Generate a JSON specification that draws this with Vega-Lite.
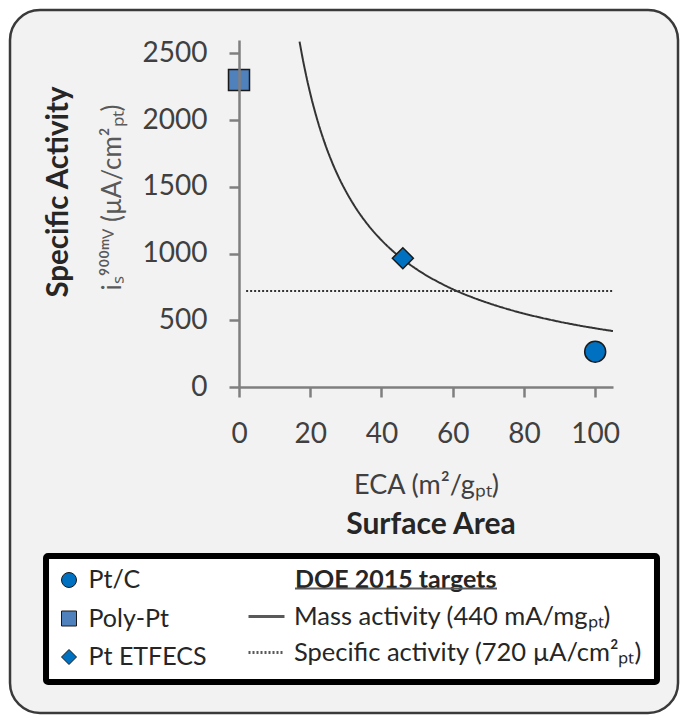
{
  "$schema": "https://vega.github.io/schema/vega-lite/v6.json",
  "width": 374,
  "height": 347,
  "autosize": {"type": "none"},
  "padding": {"left": 239, "top": 40, "right": 67, "bottom": 329},
  "background": "white",
  "config": {
    "font": "Lato",
    "view": {"stroke": null},
    "axis": {"grid": false}
  },
  "datasets": {
    "points": [
      {"series": "Pt/C", "eca": 100, "sa": 265},
      {"series": "Poly-Pt", "eca": 0, "sa": 2300},
      {"series": "Pt ETFECS", "eca": 46, "sa": 965}
    ],
    "targets": [
      {"target": "Mass activity (440 mA/mgₚₜ)", "eca": 17, "sa": 2588},
      {"target": "Mass activity (440 mA/mgₚₜ)", "eca": 18, "sa": 2444},
      {"target": "Mass activity (440 mA/mgₚₜ)", "eca": 19, "sa": 2316},
      {"target": "Mass activity (440 mA/mgₚₜ)", "eca": 20, "sa": 2200},
      {"target": "Mass activity (440 mA/mgₚₜ)", "eca": 22, "sa": 2000},
      {"target": "Mass activity (440 mA/mgₚₜ)", "eca": 24, "sa": 1833},
      {"target": "Mass activity (440 mA/mgₚₜ)", "eca": 26, "sa": 1692},
      {"target": "Mass activity (440 mA/mgₚₜ)", "eca": 28, "sa": 1571},
      {"target": "Mass activity (440 mA/mgₚₜ)", "eca": 30, "sa": 1467},
      {"target": "Mass activity (440 mA/mgₚₜ)", "eca": 33, "sa": 1333},
      {"target": "Mass activity (440 mA/mgₚₜ)", "eca": 36, "sa": 1222},
      {"target": "Mass activity (440 mA/mgₚₜ)", "eca": 40, "sa": 1100},
      {"target": "Mass activity (440 mA/mgₚₜ)", "eca": 44, "sa": 1000},
      {"target": "Mass activity (440 mA/mgₚₜ)", "eca": 48, "sa": 917},
      {"target": "Mass activity (440 mA/mgₚₜ)", "eca": 52, "sa": 846},
      {"target": "Mass activity (440 mA/mgₚₜ)", "eca": 56, "sa": 786},
      {"target": "Mass activity (440 mA/mgₚₜ)", "eca": 60, "sa": 733},
      {"target": "Mass activity (440 mA/mgₚₜ)", "eca": 65, "sa": 677},
      {"target": "Mass activity (440 mA/mgₚₜ)", "eca": 70, "sa": 629},
      {"target": "Mass activity (440 mA/mgₚₜ)", "eca": 75, "sa": 587},
      {"target": "Mass activity (440 mA/mgₚₜ)", "eca": 80, "sa": 550},
      {"target": "Mass activity (440 mA/mgₚₜ)", "eca": 85, "sa": 518},
      {"target": "Mass activity (440 mA/mgₚₜ)", "eca": 90, "sa": 489},
      {"target": "Mass activity (440 mA/mgₚₜ)", "eca": 95, "sa": 463},
      {"target": "Mass activity (440 mA/mgₚₜ)", "eca": 100, "sa": 440},
      {"target": "Mass activity (440 mA/mgₚₜ)", "eca": 105, "sa": 419},
      {"target": "Specific activity (720 µA/cm²ₚₜ)", "eca": 2, "sa": 720},
      {"target": "Specific activity (720 µA/cm²ₚₜ)", "eca": 105, "sa": 720}
    ]
  },
  "layer": [
    {
      "data": {"values": [{}]},
      "layer": [
        {
          "mark": {"type": "rect", "fill": "#f2f2f2", "stroke": "#3a3a3a", "strokeWidth": 2.5, "cornerRadius": 30, "clip": false},
          "encoding": {
            "x": {"datum": -64.29, "type": "quantitative", "scale": {"domain": [0, 105], "nice": false, "zero": false}, "axis": null},
            "x2": {"datum": 123.25},
            "y": {"datum": 2824.8, "type": "quantitative", "scale": {"domain": [0, 2600], "nice": false}, "axis": null},
            "y2": {"datum": -2442.6}
          }
        },
        {
          "mark": {"type": "rect", "fill": "white", "stroke": "black", "strokeWidth": 6, "cornerRadius": 2, "clip": false},
          "encoding": {
            "x": {"datum": -54.18, "type": "quantitative", "axis": null},
            "x2": {"datum": 117.35},
            "y": {"datum": -1266.3, "type": "quantitative", "axis": null},
            "y2": {"datum": -2210.4}
          }
        },
        {
          "mark": {"type": "text", "text": "Specific Activity", "angle": 270, "align": "center", "baseline": "middle", "fontSize": 29.5, "fontWeight": "bold", "color": "#262626", "clip": false},
          "encoding": {
            "x": {"datum": -50.53, "type": "quantitative", "axis": null},
            "y": {"datum": 1461.1, "type": "quantitative", "axis": null}
          }
        },
        {
          "mark": {"type": "text", "text": "Surface Area", "align": "center", "baseline": "middle", "fontSize": 30, "fontWeight": "bold", "color": "#262626", "clip": false},
          "encoding": {
            "x": {"datum": 53.9, "type": "quantitative", "axis": null},
            "y": {"datum": -1034.0, "type": "quantitative", "axis": null}
          }
        },
        {
          "mark": {"type": "text", "text": "DOE 2015 targets", "align": "left", "baseline": "middle", "fontSize": 25, "fontWeight": "bold", "color": "#262626", "clip": false},
          "encoding": {
            "x": {"datum": 15.72, "type": "quantitative", "axis": null},
            "y": {"datum": -1446.1, "type": "quantitative", "axis": null}
          }
        },
        {
          "mark": {"type": "rule", "color": "#595959", "strokeWidth": 2, "clip": false},
          "encoding": {
            "x": {"datum": 15.72, "type": "quantitative", "axis": null},
            "x2": {"datum": 72.43},
            "y": {"datum": -1509.8, "type": "quantitative", "axis": null}
          }
        }
      ]
    },
    {
      "layer": [
        {
          "data": {"name": "targets"},
          "mark": {"type": "line", "color": "#333333", "strokeWidth": 2, "interpolate": "monotone", "clip": true},
          "encoding": {
            "x": {"field": "eca", "type": "quantitative", "title": "ECA (m²/gₚₜ)", "scale": {"domain": [0, 105], "nice": false, "zero": false}},
            "y": {"field": "sa", "type": "quantitative", "title": "iₛ⁹⁰⁰ᵐⱽ (µA/cm²ₚₜ)", "scale": {"domain": [0, 2600], "nice": false}},
            "strokeDash": {
              "field": "target", "type": "nominal",
              "scale": {"domain": ["Mass activity (440 mA/mgₚₜ)", "Specific activity (720 µA/cm²ₚₜ)"], "range": [[1, 0], [2, 2]]},
              "legend": {
                "orient": "none", "legendX": 8, "legendY": 557, "padding": 0, "title": null,
                "symbolType": "stroke", "symbolSize": 1296, "symbolStrokeWidth": 3, "symbolStrokeColor": "#595959",
                "labelFontSize": 25.5, "labelColor": "#262626", "labelOffset": 8, "labelLimit": 600,
                "rowPadding": 3
              }
            }
          }
        },
        {
          "data": {"name": "points"},
          "mark": {"type": "point", "filled": true, "size": 441, "stroke": "#1a1a1a", "strokeWidth": 1.5, "opacity": 1},
          "encoding": {
            "x": {
              "field": "eca", "type": "quantitative", "title": "ECA (m²/gₚₜ)",
              "scale": {"domain": [0, 105], "nice": false, "zero": false},
              "axis": {
                "orient": "bottom", "zindex": 1, "format": "d", "labelFlush": false,
                "values": [0, 20, 40, 60, 80, 100], "tickSize": 10, "labelPadding": 23,
                "labelFontSize": 28, "labelColor": "#404040",
                "domainColor": "#7f7f7f", "domainWidth": 2.5, "tickColor": "#7f7f7f", "tickWidth": 2.5,
                "titleFontSize": 27, "titleFontWeight": "normal", "titleColor": "#404040",
                "titleX": 187, "titleY": 98, "titleBaseline": "middle", "titleAlign": "center"
              }
            },
            "y": {
              "field": "sa", "type": "quantitative", "title": "iₛ⁹⁰⁰ᵐⱽ (µA/cm²ₚₜ)",
              "scale": {"domain": [0, 2600], "nice": false},
              "axis": {
                "orient": "left", "zindex": 1, "format": "d", "labelFlush": false,
                "values": [0, 500, 1000, 1500, 2000, 2500], "tickSize": 10, "labelPadding": 22,
                "labelFontSize": 28, "labelColor": "#404040",
                "domainColor": "#7f7f7f", "domainWidth": 2.5, "tickColor": "#7f7f7f", "tickWidth": 2.5,
                "titleFontSize": 26, "titleFontWeight": "normal", "titleColor": "#595959",
                "titleAngle": 270, "titleX": -127, "titleY": 157, "titleBaseline": "middle", "titleAlign": "center"
              }
            },
            "color": {
              "field": "series", "type": "nominal",
              "scale": {"domain": ["Pt/C", "Poly-Pt", "Pt ETFECS"], "range": ["#0070C0", "#4F81BD", "#0070C0"]},
              "legend": {
                "orient": "none", "legendX": -182.5, "legendY": 527.5, "padding": 0, "title": null,
                "symbolSize": 225, "symbolStrokeColor": "#1a1a1a", "symbolStrokeWidth": 1,
                "labelFontSize": 25, "labelColor": "#262626", "labelOffset": 7, "labelLimit": 400,
                "rowPadding": 12.5
              }
            },
            "shape": {
              "field": "series", "type": "nominal",
              "scale": {"domain": ["Pt/C", "Poly-Pt", "Pt ETFECS"], "range": ["circle", "square", "diamond"]},
              "legend": {
                "orient": "none", "legendX": -182.5, "legendY": 527.5, "padding": 0, "title": null,
                "symbolSize": 225, "symbolStrokeColor": "#1a1a1a", "symbolStrokeWidth": 1,
                "labelFontSize": 25, "labelColor": "#262626", "labelOffset": 7, "labelLimit": 400,
                "rowPadding": 12.5
              }
            }
          }
        }
      ]
    }
  ],
  "resolve": {"scale": {"x": "independent", "y": "independent"}}
}
